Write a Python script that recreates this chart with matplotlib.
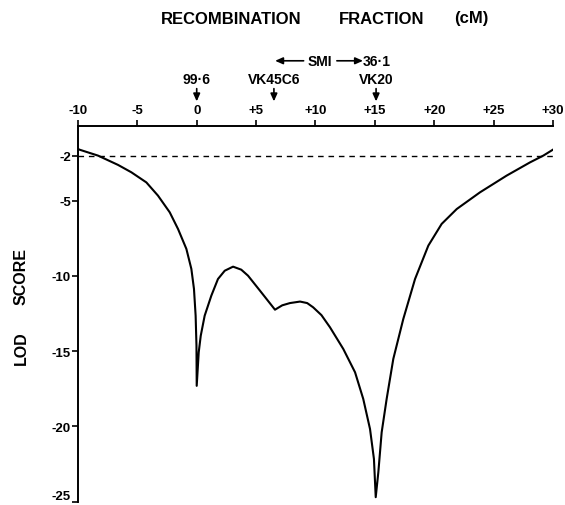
import matplotlib
matplotlib.use("Agg")
import matplotlib.pyplot as plt

# LOD score curve (recombination fraction in cM)
cm = [-10.0, -9.85, -8.31, -6.62, -5.5, -4.24, -3.26, -2.27, -1.57, -0.87,
      -0.45, -0.23, -0.09, -0.02, 0.0,
      0.17, 0.34, 0.67, 1.23, 1.79, 2.36, 3.06, 3.75, 4.32, 5.33, 6.59,
      7.2, 7.85, 8.7, 9.3, 9.8, 10.5, 11.22, 12.34, 13.33, 14.02, 14.59,
      14.92, 15.07,
      15.29, 15.57, 15.99, 16.55, 17.39, 18.38, 19.5, 20.62, 21.89, 23.85,
      26.09, 28.06, 29.18, 30.0]
lod = [-1.56, -1.61, -2.0, -2.62, -3.11, -3.78, -4.66, -5.77, -6.88, -8.2,
       -9.53, -10.86, -12.64, -14.63, -17.3,
       -15.07, -13.97, -12.64, -11.31, -10.2, -9.65, -9.38, -9.58, -9.98, -10.98, -12.24,
       -11.95, -11.8, -11.7, -11.8, -12.08, -12.6, -13.41, -14.85, -16.4, -18.17, -20.17,
       -22.16, -24.7,
       -23.04, -20.39, -18.17, -15.51, -12.86, -10.2, -7.98, -6.54, -5.55, -4.44,
       -3.33, -2.45, -2.0, -1.6]

threshold = -2

xticks = [-10, -5, 0, 5, 10, 15, 20, 25, 30]
xticklabels = ['-10', '-5', '0', '+5', '+10', '+15', '+20', '+25', '+30']
yticks = [-2, -5, -10, -15, -20, -25]
yticklabels = ['-2', '-5', '-10', '-15', '-20', '-25']

markers = ['99·6', 'VK45C6', 'VK20']
marker_pos = [0, 6.5, 15.1]

plt.rcParams['font.family'] = ['Liberation Sans', 'DejaVu Sans']
plt.rcParams['font.weight'] = 'bold'

fig = plt.figure(figsize=(5.65, 5.06), dpi=100)
ax = fig.add_axes([0.1379, 0.0065, 0.841, 0.7435])

ax.plot(cm, lod, color='black', lw=1.5)
ax.hlines(threshold, -10, 30, colors='black', lw=1.0, linestyles=(0, (4, 3.5)))

ax.set_xlim(-10, 30)
ax.set_ylim(-25, 0)
ax.spines['bottom'].set_visible(False)
ax.spines['right'].set_visible(False)
ax.spines['top'].set_linewidth(1.4)
ax.spines['left'].set_linewidth(1.4)

ax.xaxis.tick_top()
ax.set_xticks(xticks)
ax.set_xticklabels(xticklabels, fontsize=9.5, fontweight='bold')
ax.set_yticks(yticks)
ax.set_yticklabels(yticklabels, fontsize=9.5, fontweight='bold')
ax.tick_params(axis='x', direction='out', length=4, width=1.2, pad=3)
ax.tick_params(axis='y', direction='out', length=4, width=1.2, pad=1)
ax.get_yticklabels()[-1].set_va('bottom')

arrow_style = dict(arrowstyle='-|>,head_length=0.45,head_width=0.2',
                   color='black', lw=1.2, shrinkA=0, shrinkB=0)

# marker labels with down arrows
for name, pos in zip(markers, marker_pos):
    ax.text(pos, 3.1, name, ha='center', va='center', fontsize=10,
            fontweight='bold', clip_on=False)
    ax.annotate('', xy=(pos, 1.6), xytext=(pos, 2.45), annotation_clip=False,
                arrowprops=arrow_style)

# SMI interval
ax.annotate('', xy=(6.6, 4.3), xytext=(9.0, 4.3), annotation_clip=False,
            arrowprops=arrow_style)
ax.annotate('', xy=(14.0, 4.3), xytext=(11.8, 4.3), annotation_clip=False,
            arrowprops=arrow_style)
ax.text(10.4, 4.3, 'SMI', ha='center', va='center', fontsize=10,
        fontweight='bold', clip_on=False)
ax.text(14.0, 4.3, '36·1', ha='left', va='center', fontsize=10,
        fontweight='bold', clip_on=False)

# title and y label
fig.text(231 / 565, 1 - 19 / 506, 'RECOMBINATION', ha='center', va='center', fontsize=12, fontweight='bold')
fig.text(382 / 565, 1 - 19 / 506, 'FRACTION', ha='center', va='center', fontsize=12, fontweight='bold')
fig.text(471 / 565, 1 - 19 / 506, '(cM)', ha='center', va='center', fontsize=12, fontweight='bold')
fig.text(21 / 565, 1 - 348 / 506, 'LOD', rotation=90, ha='center', va='center', fontsize=11.5, fontweight='bold')
fig.text(21 / 565, 1 - 277 / 506, 'SCORE', rotation=90, ha='center', va='center', fontsize=11.5, fontweight='bold')

fig.savefig('out.png', dpi=100)
